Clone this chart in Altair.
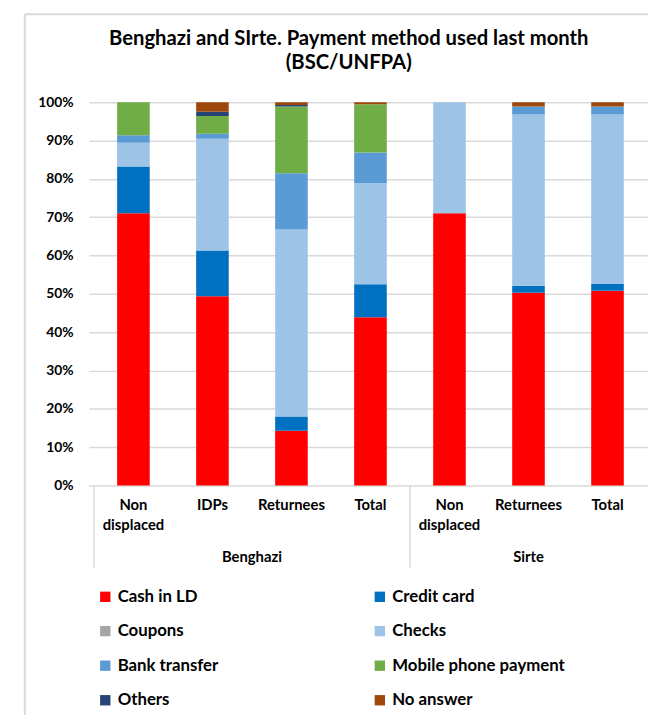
import altair as alt
import pandas as pd

categories = ["Non\ndisplaced", "IDPs", "Returnees", "Total", "Non\ndisplaced", "Returnees", "Total"]
positions = [0, 1, 2, 3, 4, 5, 6]
group_names = ["Benghazi", "Sirte"]
group_centers = [1.5, 5.0]
separators = [-0.5, 3.5]
title_lines = ["Benghazi and SIrte. Payment method used last month", "(BSC/UNFPA)"]

series = ["Cash in LD", "Credit card", "Coupons", "Checks", "Bank transfer",
          "Mobile phone payment", "Others", "No answer"]
colors = ["#FF0000", "#0070C0", "#A5A5A5", "#9DC3E6", "#5B9BD5",
          "#70AD47", "#264478", "#9E480E"]

cash = [71.0, 49.4, 14.3, 43.9, 71.0, 50.3, 50.8]
credit = [12.2, 11.9, 3.7, 8.6, 0.0, 1.8, 1.8]
coupons = [0.0, 0.0, 0.0, 0.0, 0.0, 0.0, 0.0]
checks = [6.2, 29.2, 48.8, 26.4, 29.0, 44.7, 44.2]
bank = [2.0, 1.3, 14.7, 8.0, 0.0, 2.1, 2.1]
mobile = [8.6, 4.6, 17.4, 12.6, 0.0, 0.0, 0.0]
others = [0.0, 1.1, 0.4, 0.0, 0.0, 0.0, 0.0]
no_answer = [0.0, 2.5, 0.7, 0.5, 0.0, 1.1, 1.1]

values = [cash, credit, coupons, checks, bank, mobile, others, no_answer]

rows = []
for si, (s, vals) in enumerate(zip(series, values)):
    for p, v in zip(positions, vals):
        rows.append({"pos": p, "series": s, "idx": si, "value": v})
df = pd.DataFrame(rows)

# legend is filled column by column: reorder so it reads row by row as in the reference
leg_order = [0, 2, 4, 6, 1, 3, 5, 7]
leg_domain = [series[i] for i in leg_order]
leg_range = [colors[i] for i in leg_order]

lab_df = pd.DataFrame({"pos": positions, "label": categories})
grp_df = pd.DataFrame({"pos": group_centers, "group": group_names})
sep_df = pd.DataFrame({"pos": separators})
title_df = pd.DataFrame({"t": ["\n".join(title_lines)]})
dummy = pd.DataFrame({"a": [0]})

W, H = 566, 388
FONT = "Lato"
xscale = alt.Scale(domain=[-0.5, 6.45], nice=False, zero=False)
xenc = alt.X("pos:Q", scale=xscale, axis=None)

bars = alt.Chart(df).mark_bar(size=33).encode(
    x=xenc,
    y=alt.Y("value:Q", stack="normalize", scale=alt.Scale(domain=[0, 1]),
            axis=alt.Axis(values=[i / 10 for i in range(11)], format=".0%", title=None,
                          domain=False, ticks=False, labelPadding=16,
                          labelFont=FONT, labelFontSize=14, labelFontWeight="bold",
                          labelColor="black", gridColor="#D9D9D9", gridWidth=1.5)),
    color=alt.Color("series:N", scale=alt.Scale(domain=leg_domain, range=leg_range),
                    legend=alt.Legend(title=None, orient="none", legendX=8, legendY=492,
                                      columns=2, symbolType="square", symbolSize=110,
                                      symbolStrokeWidth=0, symbolOpacity=1,
                                      labelFont=FONT, labelFontSize=17, labelFontWeight="bold",
                                      labelColor="black", rowPadding=17, columnPadding=154,
                                      labelOffset=4, padding=0, labelLimit=300)),
    order=alt.Order("idx:Q"),
)

xlabels = alt.Chart(lab_df).mark_text(
    lineBreak="\n", font=FONT, fontSize=15, fontWeight="bold", color="black",
    baseline="alphabetic", lineHeight=20
).encode(x=xenc, y=alt.value(H + 25), text="label:N")

glabels = alt.Chart(grp_df).mark_text(
    font=FONT, fontSize=15, fontWeight="bold", color="black", baseline="alphabetic"
).encode(x=xenc, y=alt.value(H + 78), text="group:N")

seps = alt.Chart(sep_df).mark_rule(color="#D9D9D9", strokeWidth=1.5).encode(
    x=xenc, y=alt.value(H), y2=alt.value(H + 83))

title = alt.Chart(title_df).mark_text(
    lineBreak="\n", font=FONT, fontSize=20.5, fontWeight="bold", color="black",
    baseline="alphabetic", lineHeight=24, align="center"
).encode(x=alt.value(W / 2 - 20), y=alt.value(-58), text="t:N")

border_left = alt.Chart(dummy).mark_rule(color="#D9D9D9", strokeWidth=2).encode(
    x=alt.value(-65), y=alt.value(-89), y2=alt.value(H + 240))
border_top = alt.Chart(dummy).mark_rule(color="#D9D9D9", strokeWidth=2).encode(
    x=alt.value(-65), x2=alt.value(W + 10), y=alt.value(-89))

chart = alt.layer(bars, xlabels, glabels, seps, title, border_left, border_top).properties(
    width=W, height=H,
    autosize=alt.AutoSizeParams(type="none"),
    padding={"left": 82, "top": 91, "right": 0, "bottom": 228},
).configure_view(stroke=None)

chart.save("out.html", embed_options={"renderer": "svg", "actions": False})
